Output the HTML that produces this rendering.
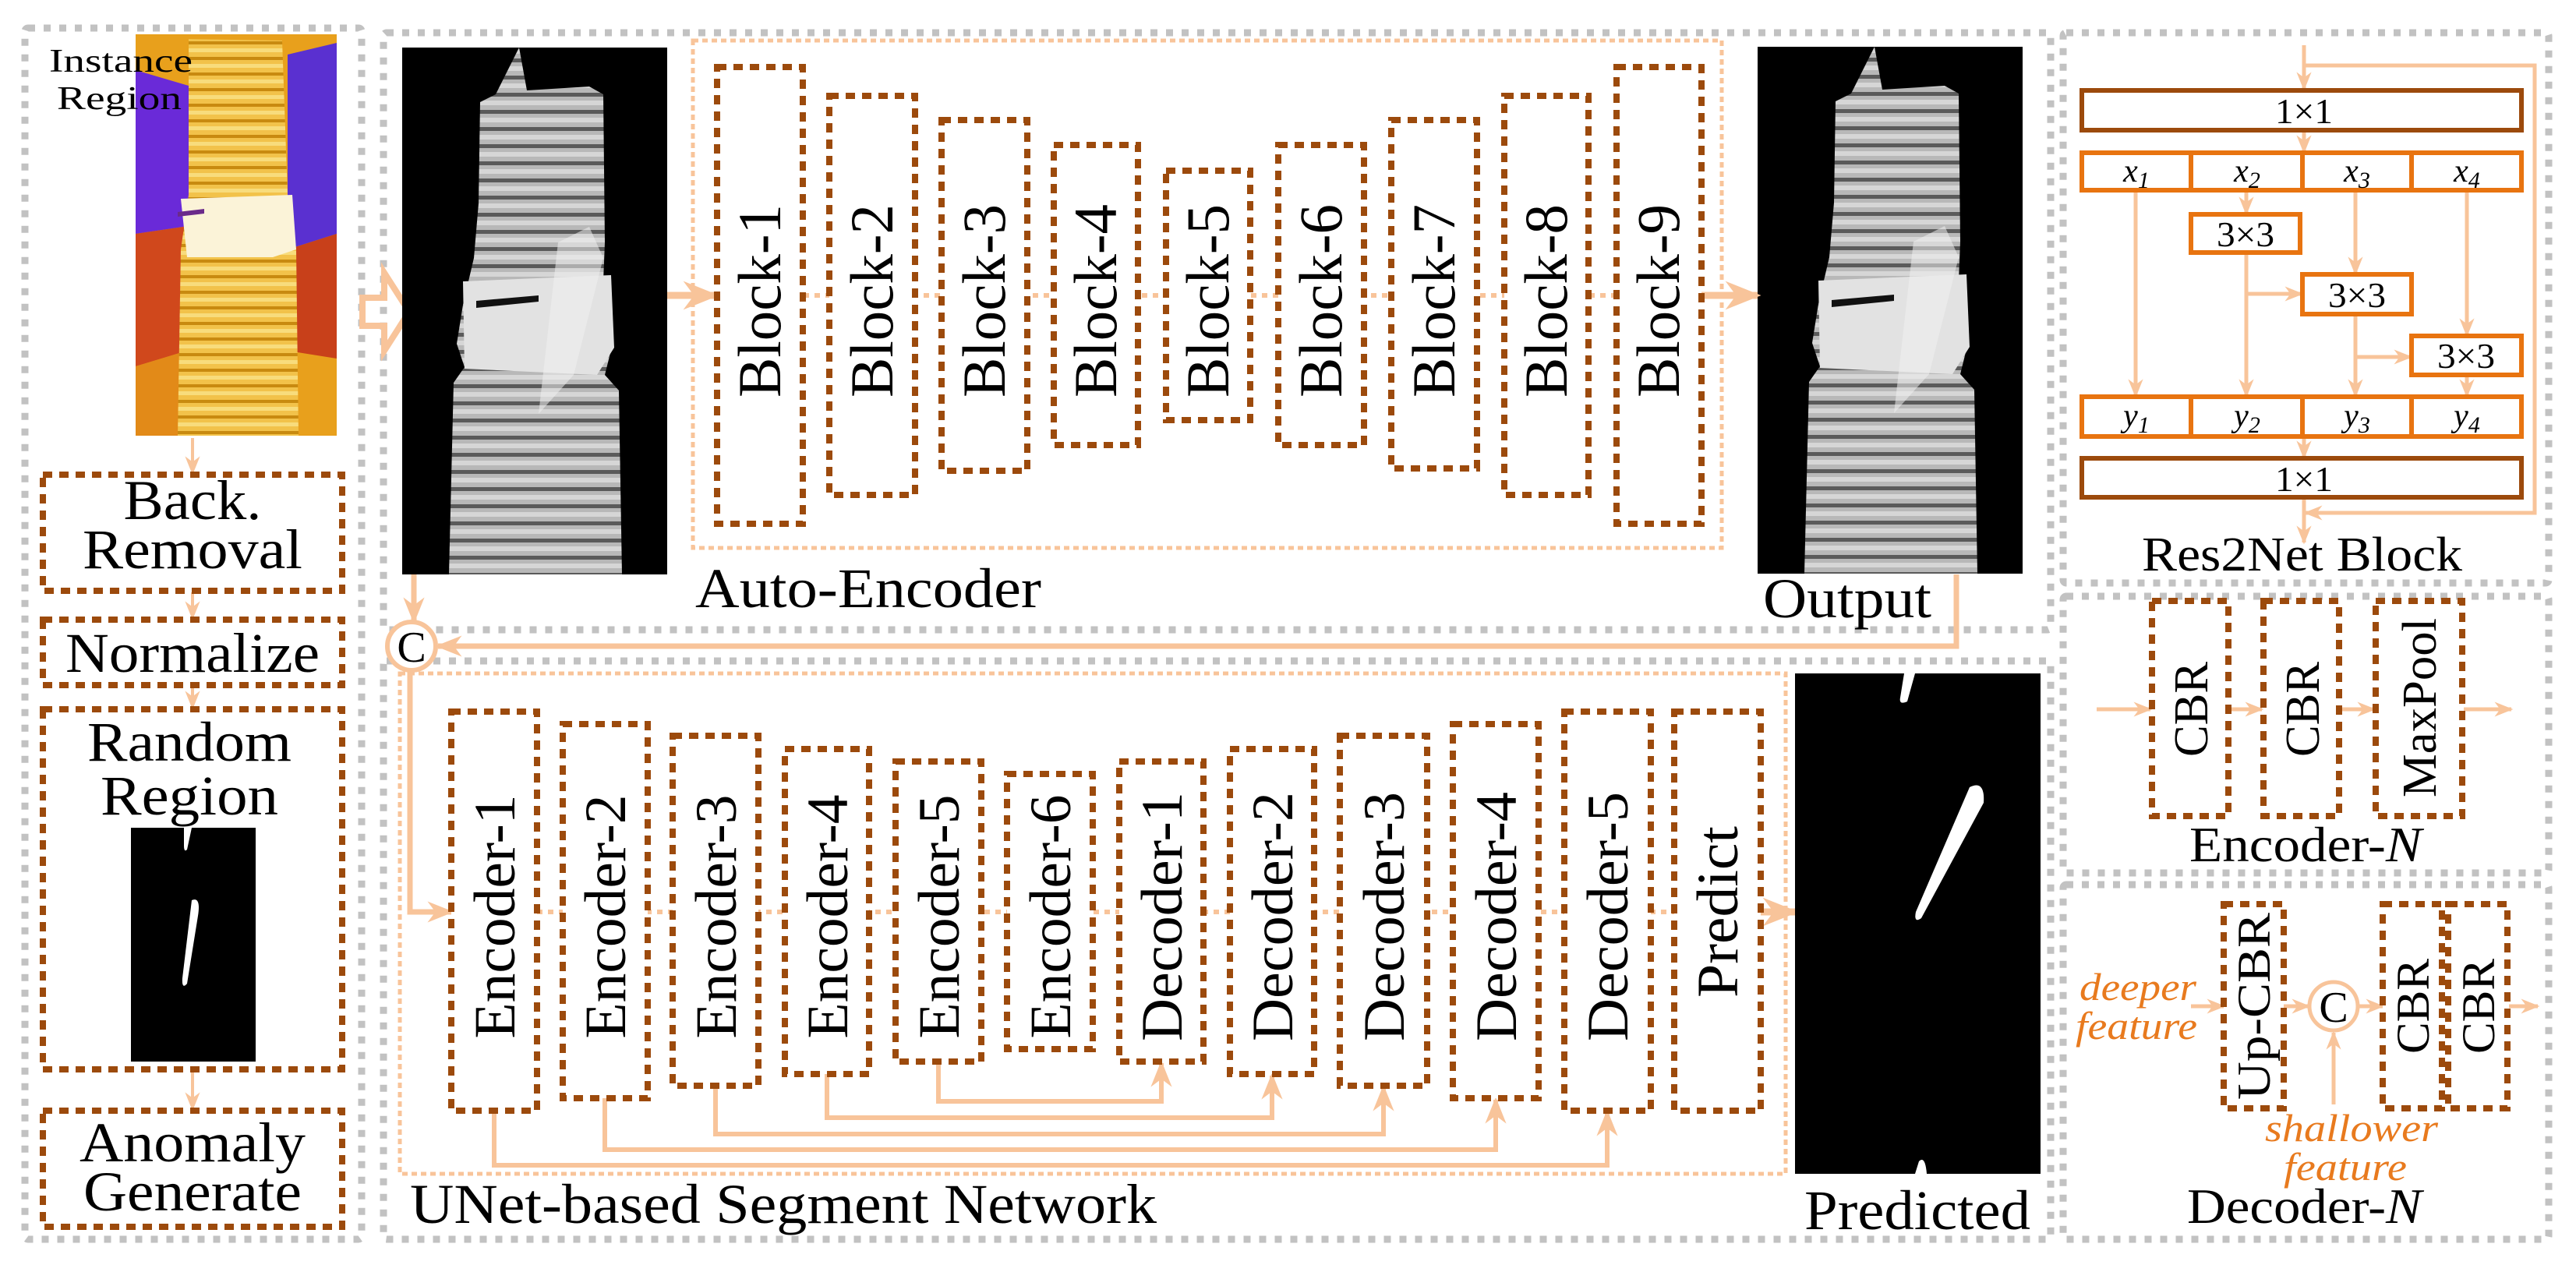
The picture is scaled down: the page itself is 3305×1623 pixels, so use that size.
<!DOCTYPE html>
<html><head><meta charset="utf-8"><style>
html,body{margin:0;padding:0;background:#fff}
svg{display:block}
text{font-family:"Liberation Serif","Times New Roman",serif}
</style></head><body>
<svg width="3305" height="1623" viewBox="0 0 3305 1623" xmlns="http://www.w3.org/2000/svg" font-family="'Liberation Serif', serif">
<defs>
<marker id="aS" viewBox="0 0 10 10" refX="9" refY="5" markerWidth="24" markerHeight="24" orient="auto" markerUnits="userSpaceOnUse"><path d="M0,1 L10,5 L0,9 L3,5 z" fill="#f8c49a"/></marker>
<marker id="aM" viewBox="0 0 10 10" refX="9" refY="5" markerWidth="34" markerHeight="34" orient="auto" markerUnits="userSpaceOnUse"><path d="M0,1 L10,5 L0,9 L3,5 z" fill="#f8c49a"/></marker>
<marker id="aL" viewBox="0 0 10 10" refX="9" refY="5" markerWidth="46" markerHeight="46" orient="auto" markerUnits="userSpaceOnUse"><path d="M0,1 L10,5 L0,9 L3,5 z" fill="#f8c49a"/></marker>
<pattern id="ridge" width="20" height="22" patternUnits="userSpaceOnUse">
<rect width="20" height="22" fill="#b8b8b8"/><rect y="14" width="20" height="5" fill="#5a5a5a"/><rect y="2" width="20" height="6" fill="#d6d6d6"/></pattern>
<pattern id="ridgeY" width="20" height="20" patternUnits="userSpaceOnUse">
<rect width="20" height="20" fill="#f2c24a"/><rect y="13" width="20" height="4" fill="#c88a10"/><rect y="2" width="20" height="5" fill="#f8dc7c"/></pattern>
<g id="insul">
<rect x="0" y="0" width="340" height="676" fill="#000"/>
<path d="M150,0 L120,60 L100,70 L98,200 L92,270 L85,300 L78,330 L70,380 L80,410 L66,430 L60,676 L282,676 L278,440 L260,420 L270,380 L268,330 L258,300 L260,250 L258,60 L240,50 L160,55 z" fill="url(#ridge)"/>
<path d="M78,300 L268,292 L272,385 L250,420 L80,412 z" fill="#e2e2e2"/>
<path d="M95,325 L175,318 L175,326 L95,334 z" fill="#111"/>
<path d="M200,250 L240,230 L258,270 L220,420 L175,470 z" fill="#f0f0f0" opacity="0.55"/>
</g>
</defs>

<g fill="none" stroke="#c2c2c2" stroke-width="9" stroke-dasharray="9 11">
<rect x="32" y="36" width="432" height="1554" rx="4"/>
<rect x="492" y="42" width="2139" height="766" rx="4"/>
<rect x="492" y="848" width="2139" height="742" rx="4"/>
<rect x="2647" y="42" width="623" height="706" rx="4"/>
<rect x="2647" y="765" width="623" height="355" rx="4"/>
<rect x="2647" y="1135" width="623" height="455" rx="4"/>
</g>

<g>
<rect x="174" y="44" width="258" height="515" fill="#e8a01c"/>
<path d="M174,90 L242,110 L242,290 L174,300 z" fill="#6a2ad8"/>
<path d="M369,70 L432,55 L432,300 L369,320 z" fill="#5a30d0"/>
<path d="M174,300 L242,290 L240,450 L174,470 z" fill="#d0481c"/>
<path d="M369,320 L432,300 L432,460 L369,450 z" fill="#c8401a"/>
<path d="M174,470 L240,450 L232,559 L174,559 z" fill="#e28a18"/>
<path d="M242,50 L362,52 L369,250 L380,320 L383,559 L228,559 L232,320 L242,250 z" fill="url(#ridgeY)"/>
<path d="M232,255 L375,250 L380,320 L350,330 L240,330 z" fill="#fbf3d8"/>
<path d="M228,272 L262,268 L262,274 L228,278 z" fill="#6a2a8a"/>
</g>
<text x="63" y="92" font-size="42" textLength="184" lengthAdjust="spacingAndGlyphs">Instance</text>
<text x="73" y="140" font-size="42" textLength="160" lengthAdjust="spacingAndGlyphs">Region</text>

<g stroke="#f8c49a" stroke-width="4" fill="none" marker-end="url(#aS)">
<line x1="247" y1="562" x2="247" y2="607"/>
<line x1="247" y1="760" x2="247" y2="793"/>
<line x1="247" y1="880" x2="247" y2="908"/>
<line x1="247" y1="1373" x2="247" y2="1423"/>
</g>
<g fill="none" stroke="#9c4a0c" stroke-width="8" stroke-dasharray="12 9">
<rect x="55" y="609" width="384" height="149"/>
<rect x="55" y="795" width="384" height="84"/>
<rect x="55" y="910" width="384" height="462"/>
<rect x="55" y="1425" width="384" height="149"/>
</g>
<text x="247" y="666" font-size="72" text-anchor="middle" textLength="177" lengthAdjust="spacingAndGlyphs">Back.</text>
<text x="247" y="729" font-size="72" text-anchor="middle" textLength="282" lengthAdjust="spacingAndGlyphs">Removal</text>
<text x="247" y="862" font-size="72" text-anchor="middle" textLength="326" lengthAdjust="spacingAndGlyphs">Normalize</text>
<text x="243" y="976" font-size="72" text-anchor="middle" textLength="262" lengthAdjust="spacingAndGlyphs">Random</text>
<text x="243" y="1045" font-size="72" text-anchor="middle" textLength="228" lengthAdjust="spacingAndGlyphs">Region</text>
<rect x="168" y="1062" width="160" height="300" fill="#000"/>
<path d="M246,1155 Q258,1150 254,1175 L240,1262 Q233,1270 234,1255 z" fill="#fff"/>
<path d="M236,1062 L246,1062 L240,1090 Q236,1094 236,1085 z" fill="#fff"/>
<text x="247" y="1490" font-size="72" text-anchor="middle" textLength="290" lengthAdjust="spacingAndGlyphs">Anomaly</text>
<text x="247" y="1553" font-size="72" text-anchor="middle" textLength="280" lengthAdjust="spacingAndGlyphs">Generate</text>

<path d="M465,382 L493,382 L493,350 L525,400 L493,450 L493,418 L465,418 z" fill="none" stroke="#f8c49a" stroke-width="8"/>

<use href="#insul" x="516" y="61"/>
<use href="#insul" x="2255" y="60"/>

<rect x="889" y="52" width="1320" height="651" fill="none" stroke="#f8c49a" stroke-width="5" stroke-dasharray="7 5"/>
<line x1="1031" y1="379" x2="2072" y2="379" stroke="#f8c49a" stroke-width="6" stroke-dasharray="7 7"/>
<line x1="856" y1="379" x2="918" y2="379" stroke="#f8c49a" stroke-width="9" marker-end="url(#aL)"/>
<line x1="2183" y1="379" x2="2255" y2="379" stroke="#f8c49a" stroke-width="9" marker-end="url(#aL)"/>
<g fill="#fff" stroke="#9c4a0c" stroke-width="8" stroke-dasharray="12 9">
<rect x="920" y="86" width="110" height="586"/>
<rect x="1064" y="123" width="110" height="512"/>
<rect x="1208" y="154" width="110" height="450"/>
<rect x="1352" y="186" width="108" height="385"/>
<rect x="1496" y="219" width="108" height="320"/>
<rect x="1640" y="186" width="110" height="385"/>
<rect x="1785" y="154" width="110" height="447"/>
<rect x="1930" y="123" width="108" height="512"/>
<rect x="2074" y="86" width="109" height="586"/>
</g>
<g font-size="78" text-anchor="middle">
<text transform="translate(1001 386) rotate(-90)" textLength="248" lengthAdjust="spacingAndGlyphs">Block-1</text>
<text transform="translate(1145 386) rotate(-90)" textLength="248" lengthAdjust="spacingAndGlyphs">Block-2</text>
<text transform="translate(1289 386) rotate(-90)" textLength="248" lengthAdjust="spacingAndGlyphs">Block-3</text>
<text transform="translate(1432 386) rotate(-90)" textLength="248" lengthAdjust="spacingAndGlyphs">Block-4</text>
<text transform="translate(1576 386) rotate(-90)" textLength="248" lengthAdjust="spacingAndGlyphs">Block-5</text>
<text transform="translate(1721 386) rotate(-90)" textLength="248" lengthAdjust="spacingAndGlyphs">Block-6</text>
<text transform="translate(1866 386) rotate(-90)" textLength="248" lengthAdjust="spacingAndGlyphs">Block-7</text>
<text transform="translate(2010 386) rotate(-90)" textLength="248" lengthAdjust="spacingAndGlyphs">Block-8</text>
<text transform="translate(2154 386) rotate(-90)" textLength="248" lengthAdjust="spacingAndGlyphs">Block-9</text>
</g>
<text x="892" y="779" font-size="72" textLength="444" lengthAdjust="spacingAndGlyphs">Auto-Encoder</text>
<text x="2262" y="792" font-size="72" textLength="216" lengthAdjust="spacingAndGlyphs">Output</text>

<line x1="531" y1="737" x2="531" y2="797" stroke="#f8c49a" stroke-width="7" marker-end="url(#aM)"/>
<polyline points="2510,737 2510,829 562,829" fill="none" stroke="#f8c49a" stroke-width="7" marker-end="url(#aM)"/>
<circle cx="528" cy="829" r="31" fill="#fff" stroke="#f8c49a" stroke-width="6"/>
<text x="528" y="849" font-size="56" text-anchor="middle">C</text>
<polyline points="526,861 526,1170 579,1170" fill="none" stroke="#f8c49a" stroke-width="7" marker-end="url(#aM)"/>

<rect x="513" y="864" width="1778" height="642" fill="none" stroke="#f8c49a" stroke-width="5" stroke-dasharray="7 5"/>
<line x1="689" y1="1170" x2="2148" y2="1170" stroke="#f8c49a" stroke-width="6" stroke-dasharray="7 7"/>
<line x1="2259" y1="1170" x2="2303" y2="1170" stroke="#f8c49a" stroke-width="9" marker-end="url(#aL)"/>
<g fill="none" stroke="#f8c49a" stroke-width="6" marker-end="url(#aM)">
<polyline points="1204,1362 1204,1413 1490,1413 1490,1364"/>
<polyline points="1061,1378 1061,1434 1632,1434 1632,1380"/>
<polyline points="918,1393 918,1455 1775,1455 1775,1395"/>
<polyline points="776,1409 776,1475 1919,1475 1919,1411"/>
<polyline points="634,1425 634,1495 2062,1495 2062,1427"/>
</g>
<g fill="#fff" stroke="#9c4a0c" stroke-width="8" stroke-dasharray="12 9">
<rect x="579" y="913" width="110" height="512"/>
<rect x="722" y="929" width="109" height="480"/>
<rect x="863" y="944" width="110" height="449"/>
<rect x="1007" y="961" width="108" height="417"/>
<rect x="1149" y="977" width="110" height="385"/>
<rect x="1292" y="993" width="110" height="353"/>
<rect x="1436" y="977" width="108" height="385"/>
<rect x="1578" y="961" width="108" height="417"/>
<rect x="1719" y="944" width="112" height="449"/>
<rect x="1864" y="929" width="110" height="480"/>
<rect x="2007" y="913" width="111" height="512"/>
<rect x="2148" y="913" width="111" height="512"/>
</g>
<g font-size="75" text-anchor="middle">
<text transform="translate(660 1176) rotate(-90)" textLength="313" lengthAdjust="spacingAndGlyphs">Encoder-1</text>
<text transform="translate(802 1176) rotate(-90)" textLength="313" lengthAdjust="spacingAndGlyphs">Encoder-2</text>
<text transform="translate(944 1176) rotate(-90)" textLength="313" lengthAdjust="spacingAndGlyphs">Encoder-3</text>
<text transform="translate(1087 1176) rotate(-90)" textLength="313" lengthAdjust="spacingAndGlyphs">Encoder-4</text>
<text transform="translate(1230 1176) rotate(-90)" textLength="313" lengthAdjust="spacingAndGlyphs">Encoder-5</text>
<text transform="translate(1373 1176) rotate(-90)" textLength="313" lengthAdjust="spacingAndGlyphs">Encoder-6</text>
<text transform="translate(1516 1176) rotate(-90)" textLength="320" lengthAdjust="spacingAndGlyphs">Decoder-1</text>
<text transform="translate(1658 1176) rotate(-90)" textLength="320" lengthAdjust="spacingAndGlyphs">Decoder-2</text>
<text transform="translate(1801 1176) rotate(-90)" textLength="320" lengthAdjust="spacingAndGlyphs">Decoder-3</text>
<text transform="translate(1945 1176) rotate(-90)" textLength="320" lengthAdjust="spacingAndGlyphs">Decoder-4</text>
<text transform="translate(2088 1176) rotate(-90)" textLength="320" lengthAdjust="spacingAndGlyphs">Decoder-5</text>
<text transform="translate(2229 1170) rotate(-90)" textLength="220" lengthAdjust="spacingAndGlyphs">Predict</text>
</g>
<rect x="2303" y="864" width="315" height="642" fill="#000"/>
<path d="M2527,1010 Q2547,1000 2545,1030 L2465,1178 Q2455,1185 2458,1170 z" fill="#fff"/>
<path d="M2443,864 L2457,864 L2447,900 Q2436,905 2438,895 z" fill="#fff"/>
<path d="M2457,1506 L2462,1490 Q2470,1482 2472,1506 z" fill="#fff"/>
<text x="526" y="1569" font-size="72" textLength="958" lengthAdjust="spacingAndGlyphs">UNet-based Segment Network</text>
<text x="2315" y="1577" font-size="72" textLength="290" lengthAdjust="spacingAndGlyphs">Predicted</text>

<g fill="none" stroke="#f8c49a" stroke-width="5" marker-end="url(#aS)">
<line x1="2956" y1="58" x2="2956" y2="114"/>
<polyline points="2956,84 3252,84 3252,658 2958,658"/>
<line x1="2956" y1="168" x2="2956" y2="195"/>
<line x1="2956" y1="640" x2="2956" y2="696"/>
<line x1="2956" y1="561" x2="2956" y2="587"/>
<line x1="2740" y1="245" x2="2740" y2="508"/>
<line x1="2882" y1="245" x2="2882" y2="274"/>
<line x1="2882" y1="325" x2="2882" y2="508"/>
<line x1="2882" y1="377" x2="2953" y2="377"/>
<line x1="3022" y1="245" x2="3022" y2="351"/>
<line x1="3022" y1="404" x2="3022" y2="508"/>
<line x1="3022" y1="458" x2="3093" y2="458"/>
<line x1="3165" y1="245" x2="3165" y2="430"/>
<line x1="3165" y1="482" x2="3165" y2="508"/>
</g>
<g fill="#fff" stroke-width="6">
<rect x="2671" y="116" width="564" height="51" stroke="#9c4a0c"/>
<rect x="2671" y="588" width="564" height="50" stroke="#9c4a0c"/>
<rect x="2671" y="196" width="564" height="48" stroke="#e87410"/>
<rect x="2671" y="509" width="564" height="51" stroke="#e87410"/>
<rect x="2811" y="275" width="140" height="49" stroke="#e87410"/>
<rect x="2954" y="352" width="140" height="51" stroke="#e87410"/>
<rect x="3094" y="431" width="141" height="50" stroke="#e87410"/>
</g>
<g stroke="#e87410" stroke-width="6">
<line x1="2811" y1="196" x2="2811" y2="244"/><line x1="2954" y1="196" x2="2954" y2="244"/><line x1="3094" y1="196" x2="3094" y2="244"/>
<line x1="2811" y1="509" x2="2811" y2="560"/><line x1="2954" y1="509" x2="2954" y2="560"/><line x1="3094" y1="509" x2="3094" y2="560"/>
</g>
<g font-size="46" text-anchor="middle">
<text x="2956" y="158" textLength="74" lengthAdjust="spacingAndGlyphs">1×1</text>
<text x="2956" y="630" textLength="74" lengthAdjust="spacingAndGlyphs">1×1</text>
<text x="2881" y="316" textLength="74" lengthAdjust="spacingAndGlyphs">3×3</text>
<text x="3024" y="394" textLength="74" lengthAdjust="spacingAndGlyphs">3×3</text>
<text x="3164" y="472" textLength="74" lengthAdjust="spacingAndGlyphs">3×3</text>
</g>
<g font-size="42" font-style="italic" text-anchor="middle">
<text x="2741" y="233">x<tspan font-size="30" dy="8">1</tspan></text>
<text x="2883" y="233">x<tspan font-size="30" dy="8">2</tspan></text>
<text x="3024" y="233">x<tspan font-size="30" dy="8">3</tspan></text>
<text x="3165" y="233">x<tspan font-size="30" dy="8">4</tspan></text>
<text x="2741" y="547">y<tspan font-size="30" dy="8">1</tspan></text>
<text x="2883" y="547">y<tspan font-size="30" dy="8">2</tspan></text>
<text x="3024" y="547">y<tspan font-size="30" dy="8">3</tspan></text>
<text x="3165" y="547">y<tspan font-size="30" dy="8">4</tspan></text>
</g>
<text x="2748" y="732" font-size="62" textLength="411" lengthAdjust="spacingAndGlyphs">Res2Net Block</text>

<g fill="none" stroke="#f8c49a" stroke-width="5" marker-end="url(#aS)">
<line x1="2690" y1="910" x2="2759" y2="910"/>
<line x1="2861" y1="910" x2="2902" y2="910"/>
<line x1="3003" y1="910" x2="3046" y2="910"/>
<line x1="3161" y1="910" x2="3222" y2="910"/>
</g>
<g fill="#fff" stroke="#9c4a0c" stroke-width="8" stroke-dasharray="12 9">
<rect x="2761" y="771" width="98" height="276"/>
<rect x="2904" y="771" width="97" height="276"/>
<rect x="3048" y="771" width="111" height="276"/>
</g>
<g font-size="62" text-anchor="middle">
<text transform="translate(2832 910) rotate(-90)" textLength="122" lengthAdjust="spacingAndGlyphs">CBR</text>
<text transform="translate(2975 910) rotate(-90)" textLength="122" lengthAdjust="spacingAndGlyphs">CBR</text>
<text transform="translate(3125 908) rotate(-90)" textLength="230" lengthAdjust="spacingAndGlyphs">MaxPool</text>
</g>
<text x="2809" y="1105" font-size="64" textLength="298" lengthAdjust="spacingAndGlyphs">Encoder-<tspan font-style="italic">N</tspan></text>

<g fill="none" stroke="#f8c49a" stroke-width="5" marker-end="url(#aS)">
<line x1="2811" y1="1291" x2="2853" y2="1291"/>
<line x1="2930" y1="1291" x2="2962" y2="1291"/>
<line x1="3027" y1="1291" x2="3057" y2="1291"/>
<line x1="3219" y1="1291" x2="3256" y2="1291"/>
<line x1="2994" y1="1417" x2="2994" y2="1325"/>
</g>
<g fill="#fff" stroke="#9c4a0c" stroke-width="8" stroke-dasharray="12 9">
<rect x="2853" y="1160" width="77" height="262"/>
<rect x="3057" y="1160" width="76" height="262"/>
<rect x="3141" y="1160" width="76" height="262"/>
</g>
<circle cx="2994" cy="1291" r="31" fill="#fff" stroke="#f8c49a" stroke-width="5"/>
<text x="2994" y="1311" font-size="56" text-anchor="middle">C</text>
<g font-size="60" text-anchor="middle">
<text transform="translate(2912 1291) rotate(-90)" textLength="240" lengthAdjust="spacingAndGlyphs">Up-CBR</text>
<text transform="translate(3116 1291) rotate(-90)" textLength="122" lengthAdjust="spacingAndGlyphs">CBR</text>
<text transform="translate(3200 1291) rotate(-90)" textLength="122" lengthAdjust="spacingAndGlyphs">CBR</text>
</g>
<g font-size="50" font-style="italic" fill="#e87a1e">
<text x="2668" y="1283" textLength="150" lengthAdjust="spacingAndGlyphs">deeper</text>
<text x="2663" y="1333" textLength="156" lengthAdjust="spacingAndGlyphs">feature</text>
<text x="2906" y="1464" textLength="222" lengthAdjust="spacingAndGlyphs">shallower</text>
<text x="2930" y="1514" textLength="158" lengthAdjust="spacingAndGlyphs">feature</text>
</g>
<text x="2806" y="1569" font-size="64" textLength="301" lengthAdjust="spacingAndGlyphs">Decoder-<tspan font-style="italic">N</tspan></text>
</svg>
</body></html>
